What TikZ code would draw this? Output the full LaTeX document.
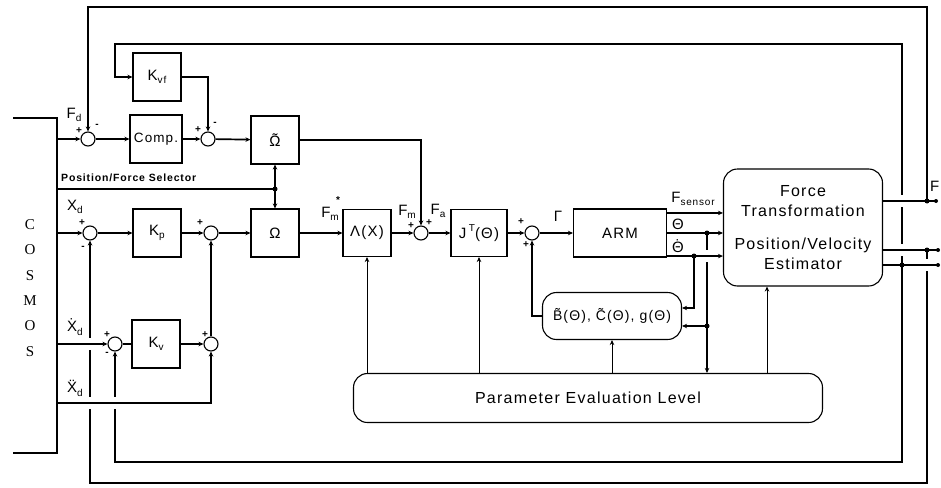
\documentclass[tikz,border=0pt]{standalone}
\usepackage{fontspec}
\setmainfont{Liberation Sans}[LetterSpace=8]
\newfontfamily\cosfont{Liberation Serif}
\usetikzlibrary{arrows.meta}
\newcommand{\sbs}[1]{\raisebox{-0.45ex}{\fontsize{10}{10}\selectfont #1}}
\newcommand{\sps}[1]{\raisebox{0.9ex}{\fontsize{10}{10}\selectfont #1}}
\newcommand{\tld}[1]{\accent"02DC #1}
\newcommand{\dtt}[1]{\accent"02D9 #1}
\newcommand{\ddt}[1]{\accent"00A8 #1}

\begin{document}
\begin{tikzpicture}[x=1pt,y=-1pt,font=\fontsize{15}{17}\selectfont,>={Stealth[length=5pt,width=4.5pt]}]
  \tikzset{blk/.style={draw, line width=1.1pt, minimum width=48pt, minimum height=48pt, inner sep=1pt},
    rblk/.style={blk, rounded corners=14pt, font=\fontsize{16}{18}\selectfont},
    sum/.style={draw, circle, line width=1.1pt, minimum size=14pt, inner sep=0pt},
    sig/.style={line width=1.7pt},
    par/.style={line width=0.8pt},
    lbl/.style={inner sep=1pt},
    sgn/.style={font=\fontsize{10}{10}\selectfont\bfseries, inner sep=0pt},
    jdot/.style={circle, fill, inner sep=0pt, minimum size=5pt}}
  \useasboundingbox (0,0) rectangle (941,487);

  % cosmos
  \draw[line width=1.1pt] (13,118) -- (57,118) -- (57,453) -- (13,453);
  \node[font=\cosfont\fontsize{15}{25.4}\selectfont, align=center] (cos) at (30,288) {C\\O\\S\\M\\O\\S};

  % blocks
  \node[blk] (kvf) at (157,77) {K\sbs{vf}};
  \node[blk, minimum width=52pt, font=\fontsize{13.5}{15}\selectfont] (comp) at (156,139) {Comp.};
  \node[blk] (omt) at (275,140) {\tld{Ω}};
  \node[blk] (kp) at (157,233) {K\sbs{p}};
  \node[blk] (om) at (275,233) {Ω};
  \node[blk] (kv) at (156,344) {K\sbs{v}};
  \node[blk, minimum height=47pt] (lam) at (367,233) {Λ(X)};
  \node[blk, minimum width=56pt, minimum height=47pt] (jt) at (479,233) {J\,\sps{T}(Θ)};
  \node[blk, minimum width=93pt] (arm) at (620,233) {ARM};
  \node[rblk, minimum width=139pt, minimum height=47pt, font=\fontsize{14}{16}\selectfont] (dyn) at (612,316)
    {\tld{B}(Θ), \tld{C}(Θ), g(Θ)};
  \node[rblk, minimum width=469pt, minimum height=49pt] (pel) at (588,398) {Parameter Evaluation Level};
  \node[rblk, minimum width=159pt, minimum height=117pt, align=center, font=\fontsize{16}{20}\selectfont] (est) at (803,227.5)
    {Force\\Transformation\\[13pt]Position/Velocity\\Estimator};

  % summing points
  \node[sum] (s1) at (88,139) {};
  \node[sum] (s2) at (208,139) {};
  \node[sum] (s3) at (90,233) {};
  \node[sum] (s4) at (211,233) {};
  \node[sum] (s5) at (115,344) {};
  \node[sum] (s6) at (211,344) {};
  \node[sum] (s7) at (421,233) {};
  \node[sum] (s8) at (532,233) {};

  \coordinate (fdin) at (57,139);
  \coordinate (xdin) at (57,233);
  \coordinate (vdin) at (57,344);
  \coordinate (adin) at (57,403);
  \coordinate (sel) at (275,189);
  \coordinate (fj) at (927,201);
  \coordinate (xj) at (927,250);
  \coordinate (vj) at (902,265);
  \coordinate (thj) at (707,233);
  \coordinate (thb) at (707,326);
  \coordinate (tdj) at (694,256);
  \coordinate (fo) at (936,201);
  \coordinate (xo) at (938,250);
  \coordinate (vo) at (938,265);
  \coordinate (fsA) at ([yshift=-4.5pt]arm.north east);
  \coordinate (tdA) at ([yshift=1.5pt]arm.south east);
  \coordinate (pe) at (767,374);

  % force loop
  \draw[sig,->] (fdin) -- (s1);
  \draw[sig,->] (s1) -- (comp);
  \draw[sig,->] (comp) -- (s2);
  \draw[sig,->] (s2) -- (omt);
  \draw[sig,->] (kvf) -| (s2);
  \draw[sig,->] (omt) -| (s7);
  \draw[sig,->] (fj) -- (927,7) -| (s1);
  \draw[sig,->] (vj) -- (902,44) -| (115,77) -- (kvf);
  \draw[line width=1.1pt] (57,189) -- (sel);
  \draw[sig,->] (sel) -- (omt);
  \draw[sig,->] (sel) -- (om);

  % position / velocity loops
  \draw[sig,->] (xdin) -- (s3);
  \draw[sig,->] (s3) -- (kp);
  \draw[sig,->] (kp) -- (s4);
  \draw[sig,->] (s4) -- (om);
  \draw[sig,->] (om) -- (lam);
  \draw[sig,->] (lam) -- (s7);
  \draw[sig,->] (s7) -- (jt);
  \draw[sig,->] (jt) -- (s8);
  \draw[sig,->] (s8) -- (arm);
  \draw[sig] (s5) -- (kv);
  \draw[sig,->] (kv) -- (s6);
  \draw[sig,->] (s6) -- (s4);
  \draw[sig,->] (xj) -- (927,483) -| (s3);
  \draw[sig,->] (vj) -- (902,462) -| (s5);

  % arm side
  \draw[sig,->] (fsA) -- (fsA -| est.west);
  \draw[sig,->] (arm) -- (arm -| est.west);
  \draw[sig,->] (thj) -- (thj |- pel.north);
  \draw[sig,->] (thb) -- (thb -| dyn.east);
  \draw[sig,->] (tdj) |- ([yshift=8pt]dyn.east);
  \draw[sig,->] (dyn) -| (s8);
  \draw[par,->] (pel.north -| lam) -- (lam);
  \draw[par,->] (pel.north -| jt) -- (jt);
  \draw[par,->] (pel.north -| dyn) -- (dyn);
  \draw[par,->] (pe) -- (pe |- est.south);

  % crossings
  \foreach \p in {(902,201),(902,250),(927,265),(707,256),(90,344),(90,403),(115,403)}
    \fill[white] \p circle (6);
  \draw[sig] (est.east |- fj) -- (fo);
  \draw[sig] (est.east |- xj) -- (xo);
  \draw[sig] (est.east |- vj) -- (vo);
  \draw[sig,->] (tdA) -- (tdA -| est.west);
  \draw[sig,->] (vdin) -- (s5);
  \draw[sig,->] (adin) -| (s6);

  \foreach \p in {sel,fj,xj,vj,thj,thb,tdj}
    \node[jdot] at (\p) {};
  \foreach \p in {fo,xo,vo}
    \node[jdot, minimum size=4pt] at (\p) {};

  % labels
  \node[lbl] (lfd) at (74,115) {F\sbs{d}};
  \node[lbl, anchor=west, font=\fontsize{10.5}{11}\selectfont\bfseries] (lsel) at (60,178) {Position/Force Selector};
  \node[lbl] (lxd) at (75,207) {X\sbs{d}};
  \node[lbl] (lvd) at (75,327) {\dtt{X}\sbs{d}};
  \node[lbl] (lad) at (75,388) {\ddt{X}\sbs{d}};
  \node[lbl] (lfms) at (330,214) {F\sbs{m}};
  \node[lbl, font=\fontsize{10}{10}\selectfont\bfseries] (lstar) at (338,200) {*};
  \node[lbl] (lfm) at (407,212) {F\sbs{m}};
  \node[lbl] (lfa) at (438,211) {F\sbs{a}};
  \node[lbl] (lgam) at (558,216) {Γ};
  \node[lbl] (lfs) at (693,199) {F\sbs{sensor}};
  \node[lbl] (lth) at (678,224) {Θ};
  \node[lbl] (ltd) at (678,246) {\dtt{Θ}};
  \node[lbl, anchor=west] (lf) at (929,186) {F};

  % signs
  \node[sgn] at (79,131) {+};  \node[sgn] at (97,126) {-};
  \node[sgn] at (198,130) {+}; \node[sgn] at (215,124) {-};
  \node[sgn] at (82,223) {+};  \node[sgn] at (83,248) {-};
  \node[sgn] at (200,223) {+};
  \node[sgn] at (107,335) {+}; \node[sgn] at (107,354) {-};
  \node[sgn] at (205,335) {+};
  \node[sgn] at (411,226) {+}; \node[sgn] at (429,223) {+};
  \node[sgn] at (521,222) {+}; \node[sgn] at (526,245) {+};
\end{tikzpicture}
\end{document}
